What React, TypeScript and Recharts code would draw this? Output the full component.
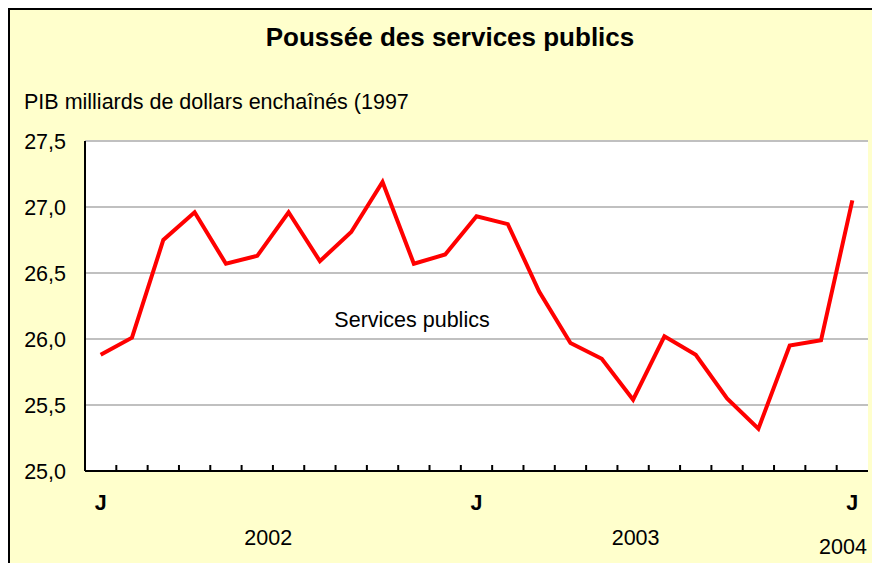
import React from 'react';
import { LineChart, Line, XAxis, YAxis, CartesianGrid } from 'recharts';

const months = [
  '2002-01', '2002-02', '2002-03', '2002-04', '2002-05', '2002-06',
  '2002-07', '2002-08', '2002-09', '2002-10', '2002-11', '2002-12',
  '2003-01', '2003-02', '2003-03', '2003-04', '2003-05', '2003-06',
  '2003-07', '2003-08', '2003-09', '2003-10', '2003-11', '2003-12',
  '2004-01',
];
const values = [
  25.88, 26.01, 26.75, 26.96, 26.57, 26.63,
  26.96, 26.59, 26.81, 27.19, 26.57, 26.64,
  26.93, 26.87, 26.36, 25.97, 25.85, 25.54,
  26.02, 25.88, 25.55, 25.32, 25.95, 25.99,
  27.05,
];
const yTicks = [25, 25.5, 26, 26.5, 27, 27.5];
const yearLabels = ['2002', '2003', '2004'];
const yearPositions = [5.35, 17.08, 23.7];
const yearRows = [0, 0, 9];

const data = months.map((m, i) => ({ month: m, value: values[i] }));

const FONT = '"Liberation Sans", Arial, sans-serif';
const FS = 21.5;

const XTick = (props: any) => {
  const { x, y, payload, index } = props;
  const i: number = typeof payload?.index === 'number' ? payload.index : index;
  const half: number = typeof payload?.offset === 'number' && payload.offset > 0 ? payload.offset : 15.66;
  const month = months[i] || '';
  const isJan = month.endsWith('-01');
  const parts: React.ReactNode[] = [];
  if (i < months.length - 1) {
    parts.push(
      <line key="t" x1={x + half} x2={x + half} y1={y} y2={y - 6} stroke="#000" strokeWidth={2} />
    );
  }
  if (isJan) {
    parts.push(
      <text key="j" x={x} y={y + 39} textAnchor="middle" fontFamily={FONT} fontSize={FS} fontWeight="bold" fill="#000">
        J
      </text>
    );
  }
  yearPositions.forEach((p, k) => {
    if (Math.floor(p) === i) {
      parts.push(
        <text key={'y' + k} x={x + (p - i) * 2 * half} y={y + 74 + yearRows[k]} textAnchor="middle" fontFamily={FONT} fontSize={FS} fill="#000">
          {yearLabels[k]}
        </text>
      );
    }
  });
  return <g>{parts}</g>;
};

const fmt = (v: number) => v.toFixed(1).replace('.', ',');

export default function App() {
  return (
    <div
      style={{
        position: 'relative',
        width: 870,
        height: 553,
        background: '#FFFFCC',
        borderTop: '2px solid #000',
        borderLeft: '2px solid #000',
        fontFamily: FONT,
        overflow: 'hidden',
      }}
    >
      <div
        style={{
          position: 'absolute',
          top: 14,
          left: 0,
          width: 880,
          textAlign: 'center',
          fontSize: 26,
          lineHeight: '26px',
          fontWeight: 'bold',
          color: '#000',
        }}
      >
        Poussée des services publics
      </div>
      <div
        style={{
          position: 'absolute',
          top: 82,
          left: 14,
          fontSize: FS,
          lineHeight: FS + 'px',
          color: '#000',
          whiteSpace: 'nowrap',
        }}
      >
        PIB milliards de dollars enchaînés (1997
      </div>
      <LineChart width={870} height={553} data={data} margin={{ top: 131, right: 12, bottom: 0, left: 0 }}>
        <CartesianGrid vertical={false} stroke="#C0C0C0" strokeWidth={2} fill="#FFFFFF" fillOpacity={1} />
        <XAxis
          dataKey="month"
          scale="band"
          height={92}
          interval={0}
          tickSize={0}
          tickMargin={0}
          tickLine={false}
          axisLine={{ stroke: '#000', strokeWidth: 2 }}
          tick={<XTick />}
        />
        <XAxis
          xAxisId="top"
          dataKey="month"
          scale="band"
          orientation="top"
          height={0}
          tick={false}
          tickLine={false}
          axisLine={{ stroke: '#000', strokeWidth: 2 }}
        />
        <YAxis
          domain={[25, 27.5]}
          ticks={yTicks}
          interval={0}
          width={75}
          tickSize={0}
          tickMargin={19}
          tickLine={false}
          axisLine={{ stroke: '#000', strokeWidth: 2 }}
          tickFormatter={fmt}
          tick={{ fill: '#000', fontSize: FS, fontFamily: FONT }}
        />
        <YAxis
          yAxisId="right"
          orientation="right"
          domain={[25, 27.5]}
          width={0}
          tick={false}
          tickLine={false}
          axisLine={{ stroke: '#000', strokeWidth: 2 }}
        />
        <Line
          type="linear"
          dataKey="value"
          stroke="#FF0000"
          strokeWidth={4}
          dot={false}
          activeDot={false}
          isAnimationActive={false}
        />
      </LineChart>
      <div
        style={{
          position: 'absolute',
          top: 300,
          left: 302,
          width: 200,
          textAlign: 'center',
          fontSize: FS,
          lineHeight: FS + 'px',
          color: '#000',
          whiteSpace: 'nowrap',
        }}
      >
        Services publics
      </div>
    </div>
  );
}
